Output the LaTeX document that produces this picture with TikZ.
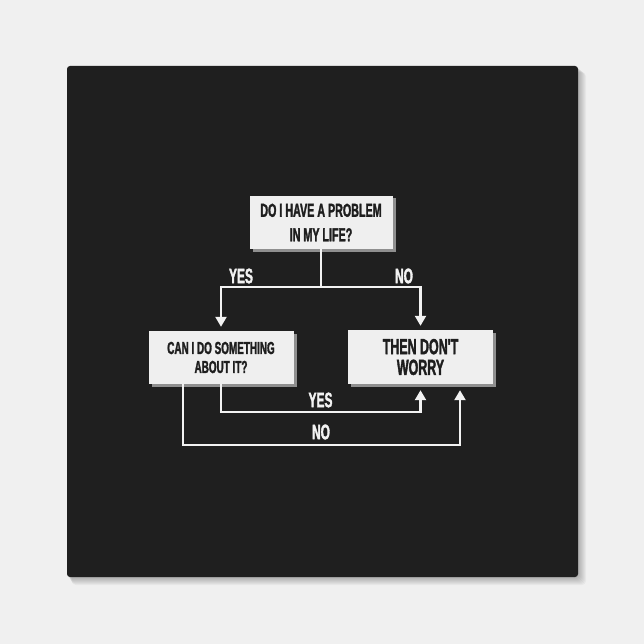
\documentclass[tikz,border=0pt]{standalone}
\usepackage{fontspec}
\newfontfamily\flowfont[FakeStretch=0.57,FakeBold=1.6]{Liberation Sans}
\usetikzlibrary{arrows.meta,shadows}
\definecolor{bggray}{HTML}{F0F0F0}
\definecolor{canvas}{HTML}{1F1F1F}
\definecolor{boxfill}{HTML}{EFEFEF}
\definecolor{boxshade}{HTML}{8F8F8F}
\definecolor{ink}{HTML}{1E1E1E}
\definecolor{wire}{HTML}{F2F2F2}
\tikzset{
  box/.style={fill=boxfill,text=ink,align=center,inner sep=0pt,minimum height=53pt,
    copy shadow={shadow xshift=3pt,shadow yshift=-2.5pt,fill=boxshade,draw=none}},
  flow/.style={draw=wire,line width=2.2pt,-{Triangle[width=11pt,length=10pt]}},
  lab/.style={text=wire,font=\flowfont\bfseries\fontsize{21}{21}\selectfont,inner sep=0pt}
}

\begin{document}
\begin{tikzpicture}[x=1pt,y=-1pt]
\fill[bggray] (0,0) rectangle (644,644);
\foreach \s in {1,...,8} \fill[black,opacity=0.035,rounded corners=4pt] (67+\s*0.6,66+\s*0.8) rectangle (578+\s,577+\s);
\fill[canvas,rounded corners=3pt] (67,66) rectangle (578,577);

\node[box,minimum width=143pt,font=\flowfont\bfseries\fontsize{18.8}{24.5}\selectfont] (problem) at (321,222.5) {DO I HAVE A PROBLEM\\IN MY LIFE?};
\node[box,minimum width=145pt,font=\flowfont\bfseries\fontsize{17.4}{19}\selectfont] (cando) at (221,357.5) {CAN I DO SOMETHING\\ABOUT IT?};
\node[box,minimum width=145pt,minimum height=54pt,font=\flowfont\bfseries\fontsize{21.8}{20.7}\selectfont] (worry) at (420.5,357) {THEN DON'T\\WORRY};

\coordinate (split) at (321,287);
\coordinate (yesbar) at (321,412);
\coordinate (nobar) at (321,445);

\draw[flow,shorten >=4pt] (problem.south) -- (split) -| (cando.north);
\draw[flow,shorten >=4pt] (split) -| (worry.north);
\draw[flow,shorten >=6pt] (cando.south) |- (yesbar) -| (worry.south);
\draw[flow,shorten >=6pt] ([xshift=-38pt]cando.south) |- (nobar) -| ([xshift=39.5pt]worry.south);

\node[lab] (yestop) at (241,276) {YES};
\node[lab] (notop) at (404,276) {NO};
\node[lab] (yesbottom) at (320.5,400) {YES};
\node[lab] (nobottom) at (321,432) {NO};
\end{tikzpicture}
\end{document}
